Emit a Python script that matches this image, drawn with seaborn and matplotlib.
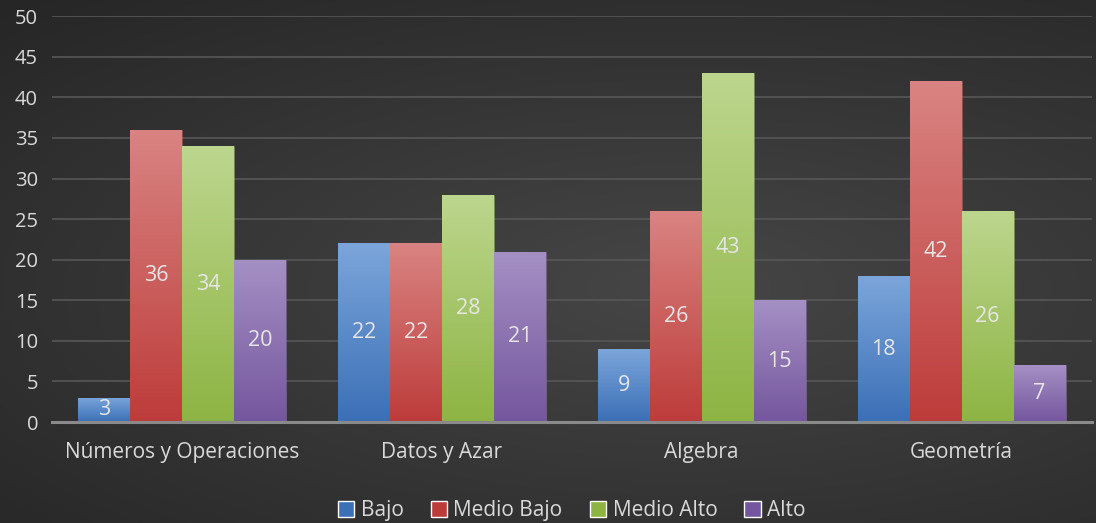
import numpy as np
import pandas as pd
import matplotlib
matplotlib.use("Agg")
import matplotlib.pyplot as plt
from matplotlib.colors import LinearSegmentedColormap
import seaborn as sns

categorias = ["Números y Operaciones", "Datos y Azar", "Algebra", "Geometría"]
niveles = ["Bajo", "Medio Bajo", "Medio Alto", "Alto"]
bajo = [3, 22, 9, 18]
medio_bajo = [36, 22, 26, 42]
medio_alto = [34, 28, 43, 26]
alto = [20, 21, 15, 7]
y_ticks = [0, 5, 10, 15, 20, 25, 30, 35, 40, 45, 50]

# colour pairs: (bottom, top) of each bar's vertical gradient
colores = {
    "Bajo": ("#3b6fb6", "#7ca6db"),
    "Medio Bajo": ("#bd3c3a", "#d98482"),
    "Medio Alto": ("#8db443", "#bdd68e"),
    "Alto": ("#74569e", "#a590c4"),
}

df = pd.DataFrame({
    "categoria": np.repeat(categorias, len(niveles)),
    "nivel": niveles * len(categorias),
    "valor": [v for fila in zip(bajo, medio_bajo, medio_alto, alto) for v in fila],
})

sns.set_theme(style="dark")
plt.rcParams["font.family"] = ["Open Sans", "DejaVu Sans"]

fig = plt.figure(figsize=(10.96, 5.23), dpi=100)

# dark radial background
bg = fig.add_axes([0, 0, 1, 1], zorder=-10)
yy, xx = np.mgrid[0:1:300j, 0:1:600j]
r = np.sqrt(((xx - 0.62) / 0.9) ** 2 + ((yy - 0.55) / 0.75) ** 2)
bg_cmap = LinearSegmentedColormap.from_list("bg", ["#464646", "#262626"])
bg.imshow(r, cmap=bg_cmap, aspect="auto", extent=[0, 1, 0, 1], vmin=0, vmax=1.0)
bg.axis("off")

ax = fig.add_axes([0.0474, 0.193, 0.9486, 0.776])
ax.patch.set_alpha(0)

palette = {k: v[0] for k, v in colores.items()}
sns.barplot(data=df, x="categoria", y="valor", hue="nivel", order=categorias,
            hue_order=niveles, palette=palette, width=0.8, saturation=1,
            errorbar=None, ax=ax, zorder=3)

# vertical gradient fill on each bar, clipped to the bar shape
for cont, nivel in zip(ax.containers, niveles):
    c0, c1 = colores[nivel]
    cmap = LinearSegmentedColormap.from_list(nivel, [c0, c1])
    for bar, val in zip(cont, cont.datavalues):
        x0 = bar.get_x()
        w = bar.get_width()
        h = bar.get_height()
        grad = np.linspace(0, 1, 256).reshape(-1, 1)
        im = ax.imshow(grad, cmap=cmap, origin="lower", aspect="auto",
                       extent=[x0, x0 + w, 0, h], zorder=3.5)
        im.set_clip_path(bar)
        bar.set_edgecolor((1, 1, 1, 0.15))
        bar.set_linewidth(0.6)
        ax.text(x0 + w / 2, val / 2, f"{val:g}", ha="center", va="center",
                color="#e6e6e6", fontsize=15.5, fontweight="medium", zorder=5)

ax.set_xlim(-0.5, len(categorias) - 0.5)
ax.set_ylim(0, 50)
ax.set_yticks(y_ticks)
ax.set_xlabel("")
ax.set_ylabel("")
ax.grid(axis="y", color="#575757", linewidth=1.2, zorder=0)
ax.grid(axis="x", visible=False)
for s in ["top", "right", "left"]:
    ax.spines[s].set_visible(False)
ax.spines["bottom"].set_color("#8a8a8a")
ax.spines["bottom"].set_linewidth(2.2)
ax.spines["bottom"].set_zorder(6)
ax.tick_params(axis="y", colors="#d9d9d9", labelsize=14.5, length=0, pad=10)
ax.tick_params(axis="x", colors="#d9d9d9", labelsize=15, length=0, pad=14)

sns.move_legend(ax, "lower center", bbox_to_anchor=(0.5, -0.29), ncol=4,
                frameon=False, title=None, fontsize=15, handlelength=0.8,
                handleheight=0.8, handletextpad=0.3, columnspacing=1.3,
                labelcolor="#d9d9d9")

fig.savefig("out.png", dpi=100)
